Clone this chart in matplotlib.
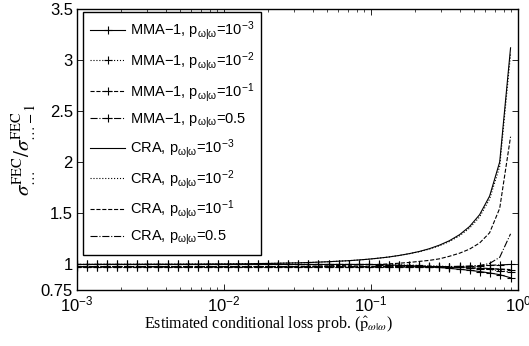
import matplotlib
matplotlib.use("Agg")
import matplotlib.pyplot as plt
from matplotlib.ticker import FixedLocator, FixedFormatter

plt.rcParams['font.family'] = ['Liberation Sans', 'DejaVu Sans']
plt.rcParams['mathtext.fontset'] = 'custom'
plt.rcParams['mathtext.rm'] = 'Liberation Sans'
plt.rcParams['mathtext.it'] = 'Liberation Sans:italic'
plt.rcParams['mathtext.bf'] = 'Liberation Sans:bold'

# estimated conditional loss probability (x axis)
p_hat = [0.001, 0.00117, 0.00137, 0.0016, 0.00188, 0.0022, 0.00257, 0.00301, 0.00353, 0.00413,
         0.00483, 0.00566, 0.00662, 0.00775, 0.00908, 0.0106, 0.0124, 0.0146, 0.017, 0.02,
         0.0234, 0.0274, 0.032, 0.0375, 0.0439, 0.0514, 0.0602, 0.0705, 0.0825, 0.0966,
         0.113, 0.132, 0.155, 0.182, 0.213, 0.249, 0.292, 0.341, 0.4, 0.468,
         0.548, 0.641, 0.751, 0.89]

mma_1e3 = [1.0, 1.0, 1.0, 1.0, 1.0, 1.0, 1.0, 1.0, 1.0, 1.0,
           1.0, 1.0, 1.0, 1.0, 1.0, 1.0, 1.0, 1.0, 1.0, 1.0,
           1.0, 1.0, 1.0, 1.0, 1.0, 1.0, 1.0, 1.0, 1.0, 1.0,
           0.998, 0.995, 0.992, 0.988, 0.984, 0.978, 0.971, 0.962, 0.953, 0.943,
           0.931, 0.917, 0.9, 0.87]
mma_1e2 = [1.0, 1.0, 1.0, 1.0, 1.0, 1.0, 1.0, 1.0, 1.0, 1.0,
           1.0, 1.0, 1.0, 1.0, 1.0, 1.0, 1.0, 1.0, 1.0, 1.0,
           1.0, 1.0, 1.0, 1.0, 1.0, 1.0, 1.0, 1.0, 1.0, 1.0,
           1.0, 0.998, 0.996, 0.994, 0.991, 0.988, 0.984, 0.979, 0.973, 0.967,
           0.96, 0.951, 0.94, 0.925]
mma_1e1 = [0.978, 0.978, 0.978, 0.978, 0.978, 0.978, 0.978, 0.978, 0.978, 0.978,
           0.978, 0.978, 0.978, 0.978, 0.978, 0.978, 0.978, 0.978, 0.978, 0.978,
           0.978, 0.978, 0.978, 0.978, 0.978, 0.978, 0.978, 0.978, 0.978, 0.978,
           0.978, 0.978, 0.978, 0.978, 0.977, 0.976, 0.975, 0.973, 0.971, 0.968,
           0.965, 0.961, 0.956, 0.95]
mma_05 = [0.978, 0.978, 0.978, 0.978, 0.978, 0.978, 0.978, 0.978, 0.978, 0.978,
          0.978, 0.978, 0.978, 0.978, 0.978, 0.978, 0.978, 0.978, 0.978, 0.978,
          0.978, 0.978, 0.978, 0.978, 0.978, 0.978, 0.978, 0.978, 0.978, 0.978,
          0.978, 0.978, 0.978, 0.978, 0.978, 0.978, 0.978, 0.98, 0.982, 0.985,
          0.988, 0.992, 0.996, 1.0]

cra_1e3 = [1.0, 1.0, 1.001, 1.001, 1.001, 1.001, 1.001, 1.002, 1.002, 1.002,
           1.002, 1.003, 1.003, 1.004, 1.005, 1.005, 1.006, 1.007, 1.009, 1.01,
           1.012, 1.014, 1.016, 1.019, 1.023, 1.027, 1.032, 1.037, 1.044, 1.052,
           1.062, 1.073, 1.088, 1.106, 1.127, 1.154, 1.189, 1.232, 1.291, 1.371,
           1.487, 1.669, 2.004, 3.12]
cra_1e2 = [1.0, 1.0, 1.001, 1.001, 1.001, 1.001, 1.001, 1.002, 1.002, 1.002,
           1.002, 1.003, 1.003, 1.004, 1.005, 1.005, 1.006, 1.007, 1.009, 1.01,
           1.012, 1.014, 1.016, 1.019, 1.023, 1.027, 1.032, 1.037, 1.044, 1.052,
           1.062, 1.073, 1.088, 1.105, 1.125, 1.15, 1.183, 1.224, 1.28, 1.355,
           1.465, 1.64, 1.96, 3.06]
cra_1e1 = [0.978, 0.978, 0.978, 0.978, 0.978, 0.978, 0.978, 0.978, 0.978, 0.978,
           0.978, 0.978, 0.978, 0.978, 0.978, 0.978, 0.978, 0.978, 0.978, 0.978,
           0.978, 0.98, 0.981, 0.983, 0.985, 0.987, 0.99, 0.993, 0.995, 0.997,
           1.0, 1.006, 1.012, 1.02, 1.03, 1.04, 1.055, 1.08, 1.11, 1.15,
           1.21, 1.31, 1.55, 2.25]
cra_05 = [0.978, 0.978, 0.978, 0.978, 0.978, 0.978, 0.978, 0.978, 0.978, 0.978,
          0.978, 0.978, 0.978, 0.978, 0.978, 0.978, 0.978, 0.978, 0.978, 0.978,
          0.978, 0.978, 0.978, 0.978, 0.978, 0.978, 0.978, 0.978, 0.978, 0.978,
          0.978, 0.978, 0.978, 0.978, 0.978, 0.978, 0.978, 0.978, 0.978, 0.98,
          0.99, 1.01, 1.07, 1.30]

sub = r"p$_{\mathregular{\omega|\omega}}$"
labels = ["MMA\u22121, " + sub + r"=10$^{\mathregular{-3}}$",
          "MMA\u22121, " + sub + r"=10$^{\mathregular{-2}}$",
          "MMA\u22121, " + sub + r"=10$^{\mathregular{-1}}$",
          "MMA\u22121, " + sub + "=0.5",
          "CRA, " + sub + r"=10$^{\mathregular{-3}}$",
          "CRA, " + sub + r"=10$^{\mathregular{-2}}$",
          "CRA, " + sub + r"=10$^{\mathregular{-1}}$",
          "CRA, " + sub + "=0.5"]

fig = plt.figure(figsize=(5.29, 3.46), dpi=100)
ax = fig.add_axes([0.1456, 0.1618, 0.8336, 0.8122])

series = [mma_1e3, mma_1e2, mma_1e1, mma_05, cra_1e3, cra_1e2, cra_1e1, cra_05]
styles = ['-', ':', '--', '-.', '-', ':', '--', '-.']
for i in range(8):
    mk = '+' if i < 4 else None
    ax.plot(p_hat, series[i], color='black', linestyle=styles[i], linewidth=0.8,
            marker=mk, markersize=6, markeredgewidth=0.8, label=labels[i])

ax.set_xscale('log')
ax.set_xlim(1e-3, 1)
ax.set_ylim(0.75, 3.5)
ax.yaxis.set_major_locator(FixedLocator([0.75, 1, 1.5, 2, 2.5, 3, 3.5]))
ax.yaxis.set_major_formatter(FixedFormatter(['0.75', '1', '1.5', '2', '2.5', '3', '3.5']))
ax.tick_params(which='both', direction='in', top=True, right=True, labelsize=12)
ax.tick_params(which='major', length=4, width=0.6, pad=3)
ax.tick_params(which='minor', length=2, width=0.5)
for s in ax.spines.values():
    s.set_linewidth(1.0)

ax.set_xlabel(r"Estimated conditional loss prob. ($\hat{\mathrm{p}}_{\omega|\omega}$)",
              family='Liberation Serif', fontsize=11.5, math_fontfamily='stix')
ax.xaxis.set_label_coords(0.433, -0.088)
ax.set_ylabel(r"$\sigma^{\mathrm{FEC}}_{\ldots}/\sigma^{\mathrm{FEC}}_{\ldots-1}$",
              fontsize=15, math_fontfamily='stix', labelpad=2)

leg = ax.legend(loc='upper left', bbox_to_anchor=(0.0136, 0.989), borderaxespad=0,
                fontsize=10.5, handlelength=2.4, labelspacing=0.53, handletextpad=0.3,
                borderpad=0.5, frameon=True, fancybox=False, framealpha=1)
leg.get_frame().set_edgecolor('black')
leg.get_frame().set_linewidth(1.0)

fig.savefig("out.png", dpi=100)
